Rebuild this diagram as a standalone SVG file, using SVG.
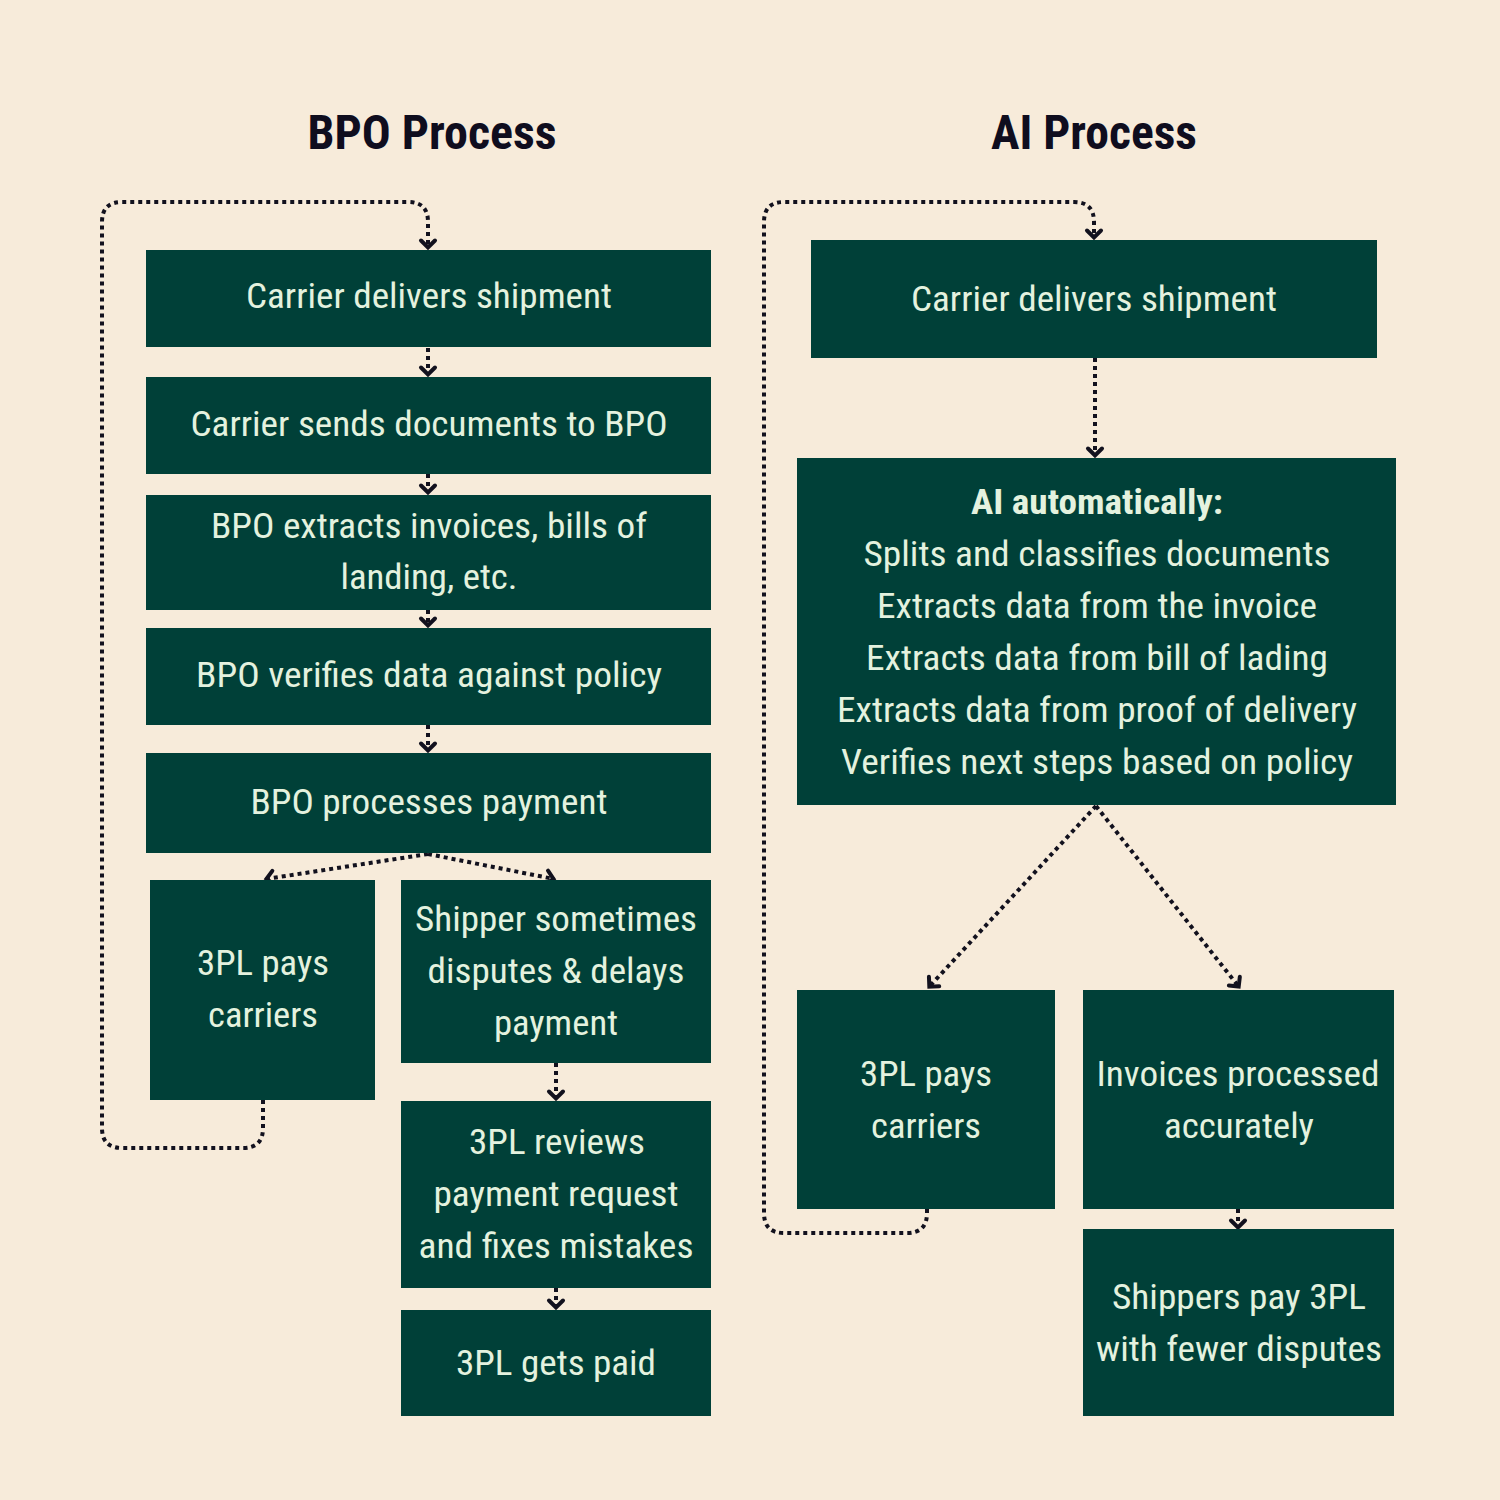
<svg xmlns="http://www.w3.org/2000/svg" width="1500" height="1500" viewBox="0 0 1500 1500">
<style>
.bg{fill:#F7EBDA}
.box{fill:#004038}
.t{font-family:"Roboto Condensed",Roboto,"Liberation Sans",sans-serif;font-size:35px;fill:#E4F2DF;text-anchor:middle}
.b{font-weight:bold}
.title{font-family:"Roboto Condensed",Roboto,"Liberation Sans",sans-serif;font-size:48px;font-weight:bold;fill:#0F0D1E;text-anchor:middle}
.c{fill:none;stroke:#12111E;stroke-width:4;stroke-dasharray:4 4;marker-end:url(#ah)}
</style>
<defs>
<marker id="ah" markerUnits="userSpaceOnUse" viewBox="-14 -12 18 24" markerWidth="18" markerHeight="24" refX="0" refY="0" orient="auto">
<path d="M-7.5,-7 L-0.5,0 L-7.5,7" fill="none" stroke="#12111E" stroke-width="4" stroke-linejoin="miter" stroke-linecap="round"/>
</marker>
</defs>
<rect class="bg" x="0" y="0" width="1500" height="1500"/>
<text class="title" x="432" y="149" textLength="249" lengthAdjust="spacingAndGlyphs">BPO Process</text>
<text class="title" x="1094" y="149" textLength="206" lengthAdjust="spacingAndGlyphs">AI Process</text>

<g id="connectors">
<path class="c" d="M263,1100 V1128 Q263,1148 243,1148 H122 Q102,1148 102,1128 V222 Q102,202 122,202 H408 Q428,202 428,222 V248"/>
<path class="c" d="M927,1209 V1213 Q927,1233 907,1233 H784 Q764,1233 764,1213 V222 Q764,202 784,202 H1074 Q1094,202 1094,222 V238"/>
<path class="c" d="M428,348 V375"/>
<path class="c" d="M428,474 V493"/>
<path class="c" d="M428,610 V626"/>
<path class="c" d="M428,725 V751"/>
<path class="c" d="M428,854 L266,879"/>
<path class="c" d="M428,854 L554,879"/>
<path class="c" d="M556,1063 V1099"/>
<path class="c" d="M556,1288 V1308"/>
<path class="c" d="M1095,358 V456"/>
<path class="c" d="M1096,806 L929,987"/>
<path class="c" d="M1096,806 L1239,987"/>
<path class="c" d="M1238,1209 V1228"/>
</g>

<g id="bpo1"><rect class="box" x="146" y="250" width="565" height="97"/>
<text class="t" x="429" y="308" textLength="366" lengthAdjust="spacingAndGlyphs">Carrier delivers shipment</text></g>
<g id="bpo2"><rect class="box" x="146" y="377" width="565" height="97"/>
<text class="t" x="429" y="436" textLength="477" lengthAdjust="spacingAndGlyphs">Carrier sends documents to BPO</text></g>
<g id="bpo3"><rect class="box" x="146" y="495" width="565" height="115"/>
<text class="t" x="429" y="538" textLength="436" lengthAdjust="spacingAndGlyphs">BPO extracts invoices, bills of</text>
<text class="t" x="429" y="589" textLength="177" lengthAdjust="spacingAndGlyphs">landing, etc.</text></g>
<g id="bpo4"><rect class="box" x="146" y="628" width="565" height="97"/>
<text class="t" x="429" y="687" textLength="466" lengthAdjust="spacingAndGlyphs">BPO verifies data against policy</text></g>
<g id="bpo5"><rect class="box" x="146" y="753" width="565" height="100"/>
<text class="t" x="429" y="814" textLength="357" lengthAdjust="spacingAndGlyphs">BPO processes payment</text></g>
<g id="bpo6"><rect class="box" x="150" y="880" width="225" height="220"/>
<text class="t" x="263" y="975" textLength="132" lengthAdjust="spacingAndGlyphs">3PL pays</text>
<text class="t" x="263" y="1027" textLength="110" lengthAdjust="spacingAndGlyphs">carriers</text></g>
<g id="bpo7"><rect class="box" x="401" y="880" width="310" height="183"/>
<text class="t" x="556" y="931" textLength="282" lengthAdjust="spacingAndGlyphs">Shipper sometimes</text>
<text class="t" x="556" y="983" textLength="257" lengthAdjust="spacingAndGlyphs">disputes &amp; delays</text>
<text class="t" x="556" y="1035" textLength="124" lengthAdjust="spacingAndGlyphs">payment</text></g>
<g id="bpo8"><rect class="box" x="401" y="1101" width="310" height="187"/>
<text class="t" x="557" y="1154" textLength="176" lengthAdjust="spacingAndGlyphs">3PL reviews</text>
<text class="t" x="556" y="1206" textLength="245" lengthAdjust="spacingAndGlyphs">payment request</text>
<text class="t" x="556" y="1258" textLength="275" lengthAdjust="spacingAndGlyphs">and fixes mistakes</text></g>
<g id="bpo9"><rect class="box" x="401" y="1310" width="310" height="106"/>
<text class="t" x="556" y="1375" textLength="200" lengthAdjust="spacingAndGlyphs">3PL gets paid</text></g>

<g id="ai1"><rect class="box" x="811" y="240" width="566" height="118"/>
<text class="t" x="1094" y="311" textLength="366" lengthAdjust="spacingAndGlyphs">Carrier delivers shipment</text></g>
<g id="ai2"><rect class="box" x="797" y="458" width="599" height="347"/>
<text class="t b" x="1097" y="514" textLength="252" lengthAdjust="spacingAndGlyphs">AI automatically:</text>
<text class="t" x="1097" y="566" textLength="467" lengthAdjust="spacingAndGlyphs">Splits and classifies documents</text>
<text class="t" x="1097" y="618" textLength="440" lengthAdjust="spacingAndGlyphs">Extracts data from the invoice</text>
<text class="t" x="1097" y="670" textLength="462" lengthAdjust="spacingAndGlyphs">Extracts data from bill of lading</text>
<text class="t" x="1097" y="722" textLength="520" lengthAdjust="spacingAndGlyphs">Extracts data from proof of delivery</text>
<text class="t" x="1097" y="774" textLength="512" lengthAdjust="spacingAndGlyphs">Verifies next steps based on policy</text></g>
<g id="ai3"><rect class="box" x="797" y="990" width="258" height="219"/>
<text class="t" x="926" y="1086" textLength="132" lengthAdjust="spacingAndGlyphs">3PL pays</text>
<text class="t" x="926" y="1138" textLength="110" lengthAdjust="spacingAndGlyphs">carriers</text></g>
<g id="ai4"><rect class="box" x="1083" y="990" width="311" height="219"/>
<text class="t" x="1238" y="1086" textLength="283" lengthAdjust="spacingAndGlyphs">Invoices processed</text>
<text class="t" x="1239" y="1138" textLength="150" lengthAdjust="spacingAndGlyphs">accurately</text></g>
<g id="ai5"><rect class="box" x="1083" y="1229" width="311" height="187"/>
<text class="t" x="1239" y="1309" textLength="254" lengthAdjust="spacingAndGlyphs">Shippers pay 3PL</text>
<text class="t" x="1239" y="1361" textLength="286" lengthAdjust="spacingAndGlyphs">with fewer disputes</text></g>
</svg>
